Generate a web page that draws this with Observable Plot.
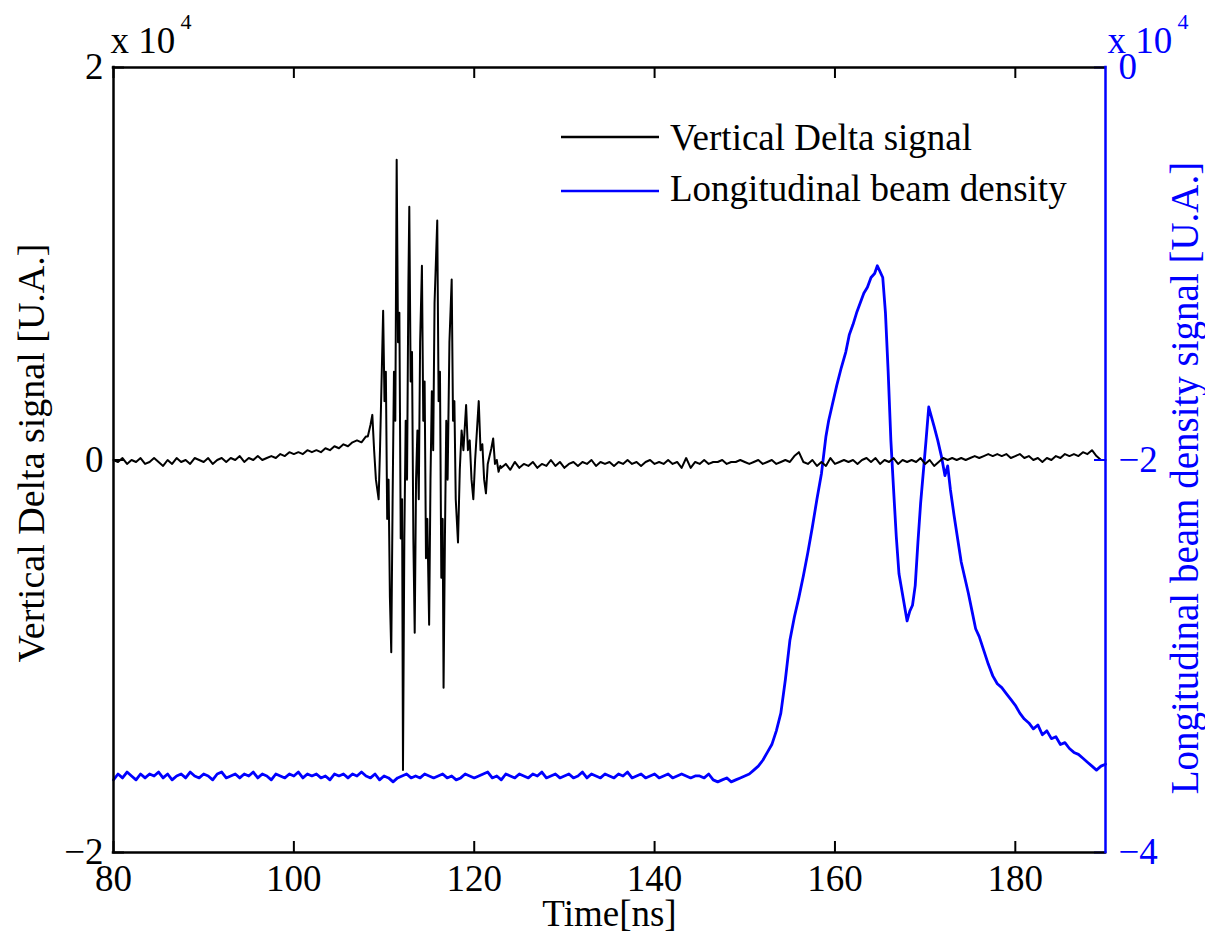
<!DOCTYPE html>
<html><head><meta charset="utf-8">
<script src="https://cdn.jsdelivr.net/npm/d3@7"></script>
<script src="https://cdn.jsdelivr.net/npm/@observablehq/plot@0.6"></script>
<style>
html,body{margin:0;padding:0;background:#fff;overflow:hidden;}
#wrap{position:relative;width:1205px;height:934px;}
#legend{position:absolute;left:0;top:0;pointer-events:none;}
</style></head>
<body><div id="wrap"></div>
<script>
// ---- Vertical Delta signal (left axis, x 10^4) ----
// quiet part, t = 80 .. 108 ns every 0.5 ns
const deltaQuietA = [
  0.00,-0.01,0.01,-0.02,0.00,-0.01,0.01,-0.02,-0.01,0.01,
  -0.01,-0.03,0.00,-0.02,0.01,-0.01,0.00,-0.02,0.01,0.00,
  -0.01,0.01,-0.02,0.00,0.01,-0.01,0.01,0.00,0.02,-0.01,
  0.01,0.00,0.02,0.00,0.01,0.02,0.01,0.03,0.02,0.04,
  0.03,0.04,0.03,0.05,0.04,0.05,0.04,0.06,0.05,0.07,
  0.06,0.08,0.07,0.09,0.10,0.09,0.12
];
// oscillating burst
const deltaBurstTime = [
  108.2,108.5,108.7,108.9,109.1,109.4,109.55,109.7,109.9,110.05,
  110.2,110.35,110.5,110.65,110.8,110.95,111.1,111.25,111.4,111.55,
  111.7,111.85,112.0,112.1,112.25,112.4,112.55,112.7,112.8,112.95,
  113.1,113.25,113.4,113.55,113.7,113.85,114.0,114.2,114.35,114.5,
  114.65,114.8,115.0,115.15,115.3,115.45,115.6,115.9,116.05,116.2,
  116.35,116.5,116.6,116.75,116.9,117.05,117.25,117.5,117.65,117.8,
  117.95,118.2,118.4,118.6,118.8,119.1,119.3,119.5,119.7,119.9,
  120.1,120.3,120.5,120.7,120.9,121.1,121.3,121.5,121.7,121.9,
  122.1,122.3,122.5,122.7,122.9
];
const deltaBurstValue = [
  0.12,0.18,0.23,0.05,-0.10,-0.20,0.05,0.35,0.76,0.30,
  0.45,-0.30,-0.10,-0.70,-0.98,-0.20,0.45,0.20,1.53,0.60,
  0.75,-0.40,-0.20,-1.58,-0.40,0.20,-0.10,0.90,1.29,0.40,
  0.55,-0.40,-0.88,-0.10,0.15,-0.20,0.60,0.99,0.20,0.40,
  -0.50,-0.30,-0.84,-0.10,0.35,0.05,0.80,1.22,0.30,0.45,
  -0.60,-0.30,-1.16,-0.40,0.20,-0.10,0.60,0.92,0.20,0.30,
  -0.20,-0.42,-0.05,0.15,0.05,0.28,0.05,0.10,-0.10,-0.20,
  0.00,0.15,0.30,0.05,0.08,-0.10,-0.17,-0.02,0.02,0.06,
  0.11,-0.02,0.00,-0.06,-0.03
];
// quiet part, t = 123 .. 190 ns every 0.5 ns
const deltaQuietB = [
  -0.04,-0.02,-0.05,-0.01,-0.04,-0.02,-0.03,-0.01,-0.04,-0.02,
  -0.03,0.00,-0.03,-0.01,-0.04,-0.02,-0.01,-0.03,-0.01,-0.02,
  0.00,-0.03,-0.01,-0.02,-0.01,-0.03,-0.01,-0.02,0.00,-0.02,
  -0.01,-0.03,-0.01,0.00,-0.02,-0.01,-0.02,0.00,-0.02,-0.01,
  -0.04,0.01,-0.04,-0.01,-0.02,0.00,-0.02,-0.01,-0.01,0.00,
  -0.02,-0.01,-0.01,0.00,-0.01,-0.02,-0.01,0.00,-0.02,-0.01,
  0.00,-0.02,-0.01,0.00,-0.01,0.02,0.04,-0.01,-0.02,0.00,
  -0.03,-0.01,-0.03,0.01,-0.02,-0.01,0.00,-0.01,0.00,-0.02,
  0.00,0.01,-0.01,0.01,-0.02,0.00,-0.01,0.01,-0.02,0.00,
  -0.01,0.00,-0.01,0.01,-0.02,0.00,-0.03,-0.01,0.01,0.00,
  0.01,0.00,0.01,0.00,0.01,0.02,0.01,0.02,0.03,0.02,
  0.03,0.02,0.03,0.01,0.02,0.03,0.01,0.02,0.00,0.01,
  -0.01,0.01,0.00,0.02,0.01,0.03,0.02,0.03,0.02,0.04,
  0.03,0.05,0.02,0.00,0.00
];

// ---- Longitudinal beam density (right axis, x 10^4) ----
// flat part, t = 80 .. 150 ns every 0.5 ns
const densityQuiet = [
  -3.63,-3.60,-3.62,-3.59,-3.61,-3.63,-3.60,-3.62,-3.60,-3.61,
  -3.59,-3.62,-3.60,-3.63,-3.61,-3.60,-3.62,-3.59,-3.61,-3.62,
  -3.60,-3.61,-3.63,-3.60,-3.59,-3.62,-3.61,-3.60,-3.62,-3.60,
  -3.61,-3.59,-3.62,-3.60,-3.61,-3.63,-3.60,-3.61,-3.62,-3.60,
  -3.61,-3.59,-3.62,-3.60,-3.61,-3.60,-3.62,-3.61,-3.63,-3.60,
  -3.61,-3.60,-3.62,-3.60,-3.61,-3.59,-3.61,-3.62,-3.60,-3.63,
  -3.61,-3.62,-3.64,-3.62,-3.61,-3.60,-3.62,-3.61,-3.62,-3.60,
  -3.61,-3.62,-3.61,-3.60,-3.62,-3.61,-3.63,-3.62,-3.60,-3.61,
  -3.62,-3.61,-3.60,-3.59,-3.62,-3.61,-3.63,-3.60,-3.61,-3.62,
  -3.60,-3.61,-3.62,-3.60,-3.61,-3.59,-3.62,-3.61,-3.60,-3.62,
  -3.61,-3.60,-3.62,-3.61,-3.59,-3.62,-3.60,-3.61,-3.62,-3.60,
  -3.61,-3.62,-3.60,-3.61,-3.59,-3.62,-3.61,-3.60,-3.62,-3.61,
  -3.60,-3.62,-3.61,-3.60,-3.62,-3.61,-3.60,-3.61,-3.62,-3.61,
  -3.61,-3.62,-3.60,-3.63,-3.64,-3.63,-3.62,-3.64,-3.63,-3.62,
  -3.61
];
// pulse
const densityPulseTime = [
  150.5,151.0,151.5,152.0,152.5,153.0,153.5,154.0,154.5,155.0,
  155.5,156.0,156.5,157.0,157.5,158.0,158.5,159.0,159.3,159.7,
  160.2,160.7,161.2,161.6,162.0,162.4,162.8,163.2,163.6,164.0,
  164.4,164.7,165.0,165.3,165.6,165.9,166.2,166.5,166.8,167.1,
  167.4,167.7,168.0,168.3,168.6,168.9,169.2,169.5,169.8,170.1,
  170.4,170.7,171.0,171.4,171.8,172.2,172.5,172.8,173.2,173.6,
  174.0,174.4,174.8,175.2,175.6,176.0,176.5,177.0,177.5,178.0,
  178.5,179.0,179.5,180.0,180.5,181.0,181.5,182.0,182.5,183.0,
  183.5,184.0,184.5,185.0,185.5,186.0,186.5,187.0,187.5,188.0,
  188.5,189.0,189.5,190.0
];
const densityPulseValue = [
  -3.60,-3.58,-3.56,-3.53,-3.49,-3.45,-3.38,-3.29,-3.12,-2.92,
  -2.80,-2.70,-2.59,-2.47,-2.34,-2.20,-2.07,-1.88,-1.80,-1.72,
  -1.62,-1.53,-1.45,-1.36,-1.31,-1.25,-1.20,-1.15,-1.12,-1.07,
  -1.05,-1.01,-1.04,-1.07,-1.25,-1.55,-1.90,-2.15,-2.39,-2.58,
  -2.66,-2.74,-2.82,-2.77,-2.74,-2.64,-2.42,-2.22,-2.06,-1.90,
  -1.73,-1.78,-1.83,-1.90,-1.98,-2.08,-2.03,-2.15,-2.28,-2.40,
  -2.52,-2.60,-2.68,-2.77,-2.86,-2.90,-2.97,-3.04,-3.10,-3.14,
  -3.16,-3.19,-3.22,-3.25,-3.29,-3.32,-3.34,-3.37,-3.35,-3.40,
  -3.38,-3.42,-3.41,-3.45,-3.44,-3.47,-3.49,-3.50,-3.52,-3.54,
  -3.56,-3.58,-3.56,-3.55
];

// ---- axes / text ----
const xTicks = [80, 100, 120, 140, 160, 180];
const leftTicks = [-2, 0, 2];
const rightTicks = [-4, -2, 0];
const xLabel = "Time[ns]";
const leftLabel = "Vertical Delta signal [U.A.]";
const rightLabel = "Longitudinal beam density signal [U.A.]";
const legendLabels = ["Vertical Delta signal", "Longitudinal beam density"];
const seriesColors = ["#000000", "#0000ff"];

// ---- build tables ----
const delta = [
  ...deltaQuietA.map((v, i) => ({t: 80 + i * 0.5, v})),
  ...deltaBurstTime.map((t, i) => ({t, v: deltaBurstValue[i]})),
  ...deltaQuietB.map((v, i) => ({t: 123 + i * 0.5, v}))
];
const density = [
  ...densityQuiet.map((v, i) => ({t: 80 + i * 0.5, v})),
  ...densityPulseTime.map((t, i) => ({t, v: densityPulseValue[i]}))
];

// right axis [-4,0] shares the frame with left axis [-2,2]
const r2l = d3.scaleLinear([-4, 0], [-2, 2]);
const fmt = d => (d < 0 ? "\u2212" + Math.abs(d) : String(d));

const W = 1205, H = 934, mL = 113, mR = 100, mT = 67, mB = 82;
const tickPx = 11;
const tickY = tickPx / (H - mT - mB) * 4;
const tickX = tickPx / (W - mL - mR) * 110;
const FONT = '"Liberation Serif", "Times New Roman", serif';

const chart = Plot.plot({
  width: W, height: H,
  marginLeft: mL, marginRight: mR, marginTop: mT, marginBottom: mB,
  style: {fontFamily: FONT, fontSize: "37px", background: "#fff", overflow: "visible"},
  x: {domain: [80, 190], label: null},
  y: {domain: [-2, 2], label: null},
  marks: [
    Plot.line(density, {x: "t", y: d => r2l(d.v), stroke: seriesColors[1], strokeWidth: 2.8}),
    Plot.line(delta, {x: "t", y: "v", stroke: seriesColors[0], strokeWidth: 2}),
    // inward ticks
    Plot.ruleX(xTicks, {x: d => d, y1: -2, y2: -2 + tickY, stroke: "#000", strokeWidth: 2}),
    Plot.ruleX(xTicks, {x: d => d, y1: 2, y2: 2 - tickY, stroke: "#000", strokeWidth: 2}),
    Plot.ruleY(leftTicks, {y: d => d, x1: 80, x2: 80 + tickX, stroke: "#000", strokeWidth: 2}),
    Plot.ruleY(rightTicks, {y: d => r2l(d), x1: 190 - tickX, x2: 190, stroke: seriesColors[1], strokeWidth: 2}),
    // frame
    Plot.ruleY([-2, 2], {stroke: "#000", strokeWidth: 2.5, strokeLinecap: "square"}),
    Plot.ruleX([80], {stroke: "#000", strokeWidth: 2.5, strokeLinecap: "square"}),
    Plot.ruleX([190], {stroke: seriesColors[1], strokeWidth: 2.5, strokeLinecap: "square"}),
    // tick labels
    Plot.axisX(xTicks, {anchor: "bottom", tickSize: 0, tickPadding: 12, tickFormat: fmt, fontSize: 37, label: null, fill: "#000"}),
    Plot.axisY(leftTicks, {anchor: "left", tickSize: 0, tickPadding: 10, tickFormat: fmt, fontSize: 37, label: null, fill: "#000"}),
    Plot.axisY(rightTicks.map(r2l), {anchor: "right", tickSize: 0, tickPadding: 13,
      tickFormat: d => fmt(Math.round(r2l.invert(d))), fontSize: 37, label: null, fill: seriesColors[1], color: seriesColors[1]}),
    // exponent labels
    Plot.text(["x 10"], {frameAnchor: "top-left", text: d => d, textAnchor: "start", lineAnchor: "bottom", dx: -3, dy: -15, fontSize: 37, fill: "#000"}),
    Plot.text(["4"], {frameAnchor: "top-left", text: d => d, textAnchor: "start", lineAnchor: "bottom", dx: 67, dy: -39, fontSize: 22, fill: "#000"}),
    Plot.text(["x 10"], {frameAnchor: "top-right", text: d => d, textAnchor: "start", lineAnchor: "bottom", dx: 2, dy: -15, fontSize: 37, fill: seriesColors[1]}),
    Plot.text(["4"], {frameAnchor: "top-right", text: d => d, textAnchor: "start", lineAnchor: "bottom", dx: 72, dy: -39, fontSize: 22, fill: seriesColors[1]}),
    // axis titles
    Plot.text([xLabel], {frameAnchor: "bottom", text: d => d, textAnchor: "middle", lineAnchor: "bottom", dy: 73, fontSize: 37, fill: "#000"}),
    Plot.text([leftLabel], {frameAnchor: "left", text: d => d, rotate: -90, textAnchor: "middle", lineAnchor: "middle", dx: -82, dy: -7, fontSize: 38, fill: "#000"}),
    Plot.text([rightLabel], {frameAnchor: "right", text: d => d, rotate: -90, textAnchor: "middle", lineAnchor: "middle", dx: 80, dy: 18, fontSize: 39, fill: seriesColors[1]})
  ]
});

const wrap = document.getElementById("wrap");
wrap.appendChild(chart);

// legend overlay
const ns = "http://www.w3.org/2000/svg";
const leg = document.createElementNS(ns, "svg");
leg.setAttribute("id", "legend");
leg.setAttribute("width", W);
leg.setAttribute("height", H);
const rowLineY = [137, 191];
const rowTextY = [150, 201];
legendLabels.forEach((lab, i) => {
  const ln = document.createElementNS(ns, "line");
  ln.setAttribute("x1", 561); ln.setAttribute("x2", 659);
  ln.setAttribute("y1", rowLineY[i]); ln.setAttribute("y2", rowLineY[i]);
  ln.setAttribute("stroke", seriesColors[i]); ln.setAttribute("stroke-width", 2.5);
  leg.appendChild(ln);
  const tx = document.createElementNS(ns, "text");
  tx.setAttribute("x", 670); tx.setAttribute("y", rowTextY[i]);
  tx.setAttribute("font-family", FONT); tx.setAttribute("font-size", 37);
  tx.setAttribute("fill", "#000");
  tx.textContent = lab;
  leg.appendChild(tx);
});
wrap.appendChild(leg);
</script>
</body></html>
